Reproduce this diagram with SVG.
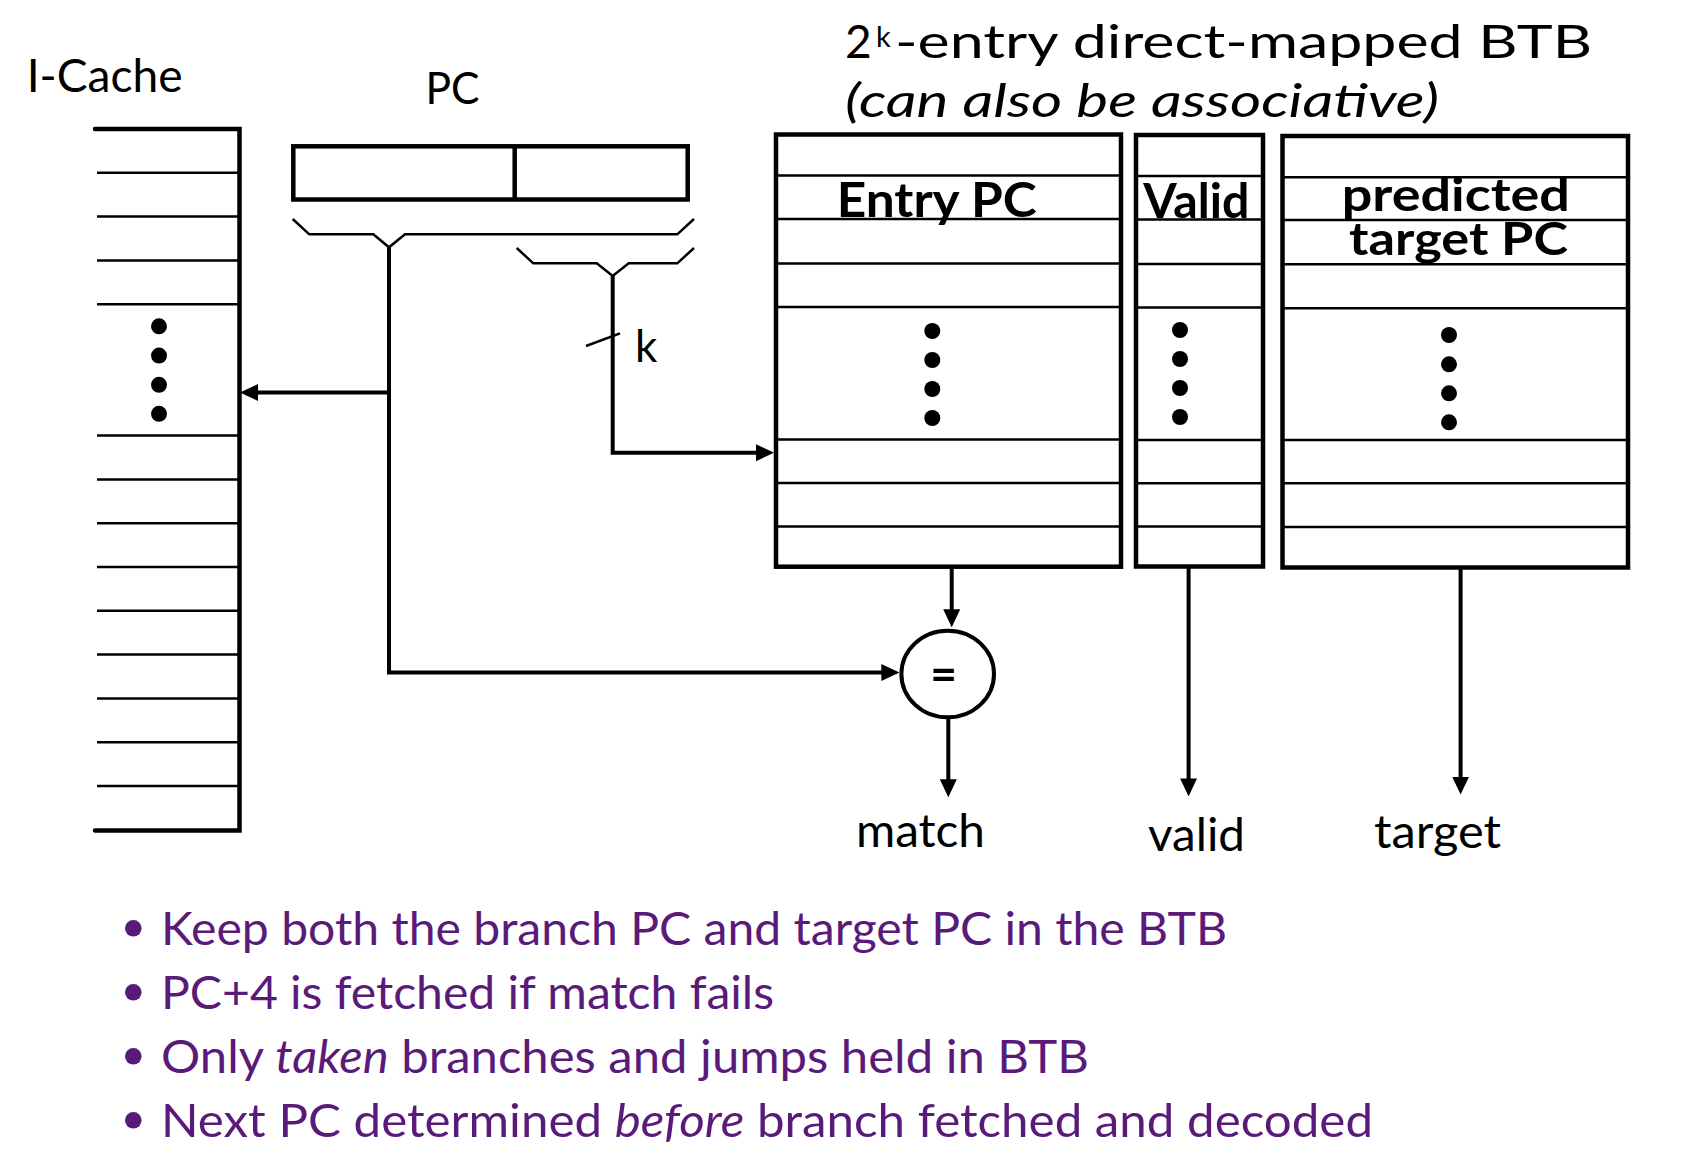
<svg xmlns="http://www.w3.org/2000/svg" width="1688" height="1160" viewBox="0 0 1688 1160">
<style>
.t{font-family:Lato,"Open Sans","Liberation Sans",sans-serif;fill:#000}
.b{font-weight:700}
.it{font-style:italic}
.thick{stroke:#000;stroke-width:4.5;fill:none}
.thin{stroke:#000;stroke-width:2.5;fill:none}
.conn{stroke:#000;stroke-width:4;fill:none}
.dot{fill:#000}
.bul{fill:#5a1a7a;font-size:47px}
.bd{fill:#5a1a7a}
</style>
<defs>
<marker id="ah" markerUnits="userSpaceOnUse" markerWidth="18" markerHeight="18" refX="8" refY="8.5" orient="auto">
<path d="M0,0 L18,8.5 L0,17 z" fill="#000"/>
</marker>
</defs>
<rect width="1688" height="1160" fill="#fff"/>

<g id="icache">
<text class="t" x="26.7" y="91.7" font-size="46" textLength="156" lengthAdjust="spacingAndGlyphs">I-Cache</text>
<path class="thick" d="M95,129 H239.5 V830.5 H95" stroke-linecap="round"/>
<path class="thin" d="M97,172.8H239 M97,216.6H239 M97,260.4H239 M97,304.2H239 M97,435.6H239 M97,479.4H239 M97,523.2H239 M97,567H239 M97,610.8H239 M97,654.6H239 M97,698.4H239 M97,742.2H239 M97,786H239"/>
<circle class="dot" cx="159" cy="326.3" r="8"/>
<circle class="dot" cx="159" cy="355.6" r="8"/>
<circle class="dot" cx="159" cy="384.8" r="8"/>
<circle class="dot" cx="159" cy="413.8" r="8"/>
</g>

<g id="pc">
<text class="t" x="425.4" y="103.6" font-size="45" textLength="54" lengthAdjust="spacingAndGlyphs">PC</text>
<rect class="thick" x="293.3" y="146.3" width="394.4" height="53.2"/>
<line class="thick" x1="514.7" y1="146.3" x2="514.7" y2="199.5"/>
<path class="thin" d="M292.7,219 L309.3,234.3 H373.3 L389,247.3 L405,234.3 H677.3 L694,219"/>
<path class="thin" d="M516.7,248 L533.3,263.3 H596.7 L612.7,276 L628.7,263.3 H677.3 L694,248"/>
<line class="thin" x1="586" y1="346" x2="620" y2="333.3"/>
<text class="t" x="635" y="362.3" font-size="44">k</text>
</g>

<g id="btb-title">
<text class="t" x="845" y="58.3" font-size="46">2</text>
<text class="t" x="876" y="46.7" font-size="29">k</text>
<text class="t" x="895" y="58.3" font-size="46" textLength="697" lengthAdjust="spacingAndGlyphs">-entry direct-mapped BTB</text>
<text class="t it" x="845" y="116.7" font-size="46" textLength="594" lengthAdjust="spacingAndGlyphs">(can also be associative)</text>
</g>

<g id="entry-pc">
<rect class="thick" x="776" y="134.5" width="345" height="432.2"/>
<path class="thin" d="M776,175.5H1121 M776,219H1121 M776,263.5H1121 M776,307H1121 M776,439.5H1121 M776,483H1121 M776,526.5H1121"/>
<text class="t b" x="836.7" y="217.3" font-size="48" textLength="200" lengthAdjust="spacingAndGlyphs">Entry PC</text>
<circle class="dot" cx="932.3" cy="331" r="8"/>
<circle class="dot" cx="932.3" cy="360" r="8"/>
<circle class="dot" cx="932.3" cy="389" r="8"/>
<circle class="dot" cx="932.3" cy="418" r="8"/>
</g>

<g id="valid">
<rect class="thick" x="1136" y="135" width="127" height="431.5"/>
<path class="thin" d="M1136,176H1263 M1136,219.5H1263 M1136,264H1263 M1136,307.5H1263 M1136,440H1263 M1136,483.3H1263 M1136,526.5H1263"/>
<text class="t b" x="1143.3" y="217.5" font-size="48" textLength="106" lengthAdjust="spacingAndGlyphs">Valid</text>
<circle class="dot" cx="1180" cy="330" r="8"/>
<circle class="dot" cx="1180" cy="359" r="8"/>
<circle class="dot" cx="1180" cy="388" r="8"/>
<circle class="dot" cx="1180" cy="417" r="8"/>
</g>

<g id="target-pc">
<rect class="thick" x="1282.5" y="136" width="345.5" height="431.5"/>
<path class="thin" d="M1282.5,177.3H1628 M1282.5,220H1628 M1282.5,264.3H1628 M1282.5,308.3H1628 M1282.5,440H1628 M1282.5,483.3H1628 M1282.5,527H1628"/>
<text class="t b" x="1341.7" y="210.7" font-size="46" textLength="228.3" lengthAdjust="spacingAndGlyphs">predicted</text>
<text class="t b" x="1349" y="255" font-size="46" textLength="219" lengthAdjust="spacingAndGlyphs">target PC</text>
<circle class="dot" cx="1449" cy="335" r="8"/>
<circle class="dot" cx="1449" cy="364.3" r="8"/>
<circle class="dot" cx="1449" cy="393.3" r="8"/>
<circle class="dot" cx="1449" cy="422.3" r="8"/>
</g>

<g id="comparator">
<ellipse cx="947.7" cy="674" rx="46.3" ry="43.3" fill="#fff" stroke="#000" stroke-width="4"/>
<text class="t b" x="943.5" y="690" font-size="46" text-anchor="middle">=</text>
</g>

<g id="connectors">
<path class="conn" d="M389,247.3 V672.5 H889.3" marker-end="url(#ah)"/>
<path class="conn" d="M389,392.5 H250" marker-end="url(#ah)"/>
<path class="conn" d="M612.7,276 V452.7 H764" marker-end="url(#ah)"/>
<path class="conn" d="M951.7,566.7 V617.3" marker-end="url(#ah)"/>
<path class="conn" d="M948.3,717.3 V787.3" marker-end="url(#ah)"/>
<path class="conn" d="M1188.6,566.5 V786.4" marker-end="url(#ah)"/>
<path class="conn" d="M1460.6,567.5 V784.6" marker-end="url(#ah)"/>
</g>

<g id="outputs">
<text class="t" x="856" y="847" font-size="46" textLength="129" lengthAdjust="spacingAndGlyphs">match</text>
<text class="t" x="1148" y="851" font-size="46" textLength="97" lengthAdjust="spacingAndGlyphs">valid</text>
<text class="t" x="1374" y="847.5" font-size="46" textLength="127" lengthAdjust="spacingAndGlyphs">target</text>
</g>

<g id="bullets">
<circle class="bd" cx="133.3" cy="928.3" r="8.3"/>
<text class="t bul" x="161" y="945" textLength="1066" lengthAdjust="spacingAndGlyphs">Keep both the branch PC and target PC in the BTB</text>
<circle class="bd" cx="133.3" cy="992.3" r="8.3"/>
<text class="t bul" x="161" y="1009.3" textLength="613" lengthAdjust="spacingAndGlyphs">PC+4 is fetched if match fails</text>
<circle class="bd" cx="133.3" cy="1056.3" r="8.3"/>
<text class="t bul" x="161" y="1073.3" textLength="928" lengthAdjust="spacingAndGlyphs">Only <tspan font-style="italic">taken</tspan> branches and jumps held in BTB</text>
<circle class="bd" cx="133.3" cy="1120.3" r="8.3"/>
<text class="t bul" x="161" y="1137.3" textLength="1212" lengthAdjust="spacingAndGlyphs">Next PC determined <tspan font-style="italic">before</tspan> branch fetched and decoded</text>
</g>
</svg>
